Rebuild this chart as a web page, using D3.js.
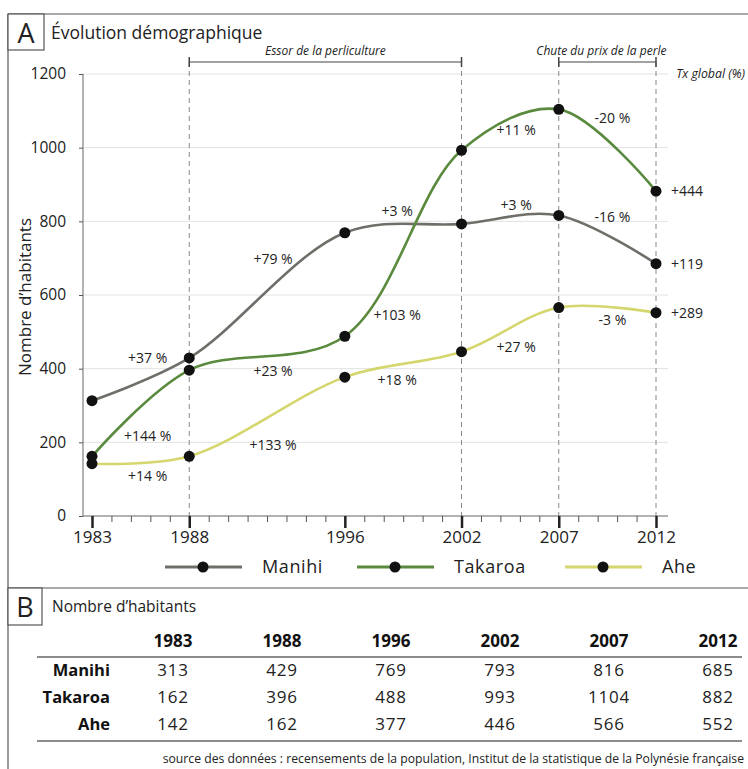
<!DOCTYPE html>
<html><head><meta charset="utf-8">
<script src="https://cdn.jsdelivr.net/npm/d3@7"></script>
<style>
body{margin:0;background:#fff;}
svg{display:block;font-family:"Open Sans","Noto Sans",sans-serif;}
</style></head>
<body><svg id="c" width="748" height="769"></svg>
<script>
// ---- data ----
const years = [1983, 1988, 1996, 2002, 2007, 2012];
const seriesNames = ["Manihi", "Takaroa", "Ahe"];
const manihi = [313, 429, 769, 793, 816, 685];
const takaroa = [162, 396, 488, 993, 1104, 882];
const ahe = [142, 162, 377, 446, 566, 552];
// period-to-period change (%) as printed on the chart
const manihiPct = [37, 79, 3, 3, -16];
const takaroaPct = [144, 23, 103, 11, -20];
const ahePct = [14, 133, 18, 27, -3];
// overall change 1983-2012 (%)
const globalPct = [119, 444, 289];
const yTicks = [0, 200, 400, 600, 800, 1000, 1200];
const periodLabels = ["Essor de la perliculture", "Chute du prix de la perle"];
const periodStart = [1988, 2007];
const periodEnd = [2002, 2012];
const titleA = "Évolution démographique";
const titleB = "Nombre d’habitants";
const yTitle = "Nombre d’habitants";
const globalLabel = "Tx global (%)";
const sourceText = "source des données : recensements de la population, Institut de la statistique de la Polynésie française";

// ---- styles ----
const colors = {Manihi: "#6f6e69", Takaroa: "#5a8a3d", Ahe: "#d5d66e"};
const values = {Manihi: manihi, Takaroa: takaroa, Ahe: ahe};
const pcts = {Manihi: manihiPct, Takaroa: takaroaPct, Ahe: ahePct};
// label pixel offsets per segment
const segDx = [7, 6, -6, 6, 5];
const segDy = {Manihi: [-21, -36, -17, -15, -22], Takaroa: [23, 18, 72, 0, -32], Ahe: [16, 28, 16, 17, 10]};

const svg = d3.select("#c");
const x = d3.scaleLinear().domain([1983, 2012]).range([92, 656]);
const y = d3.scaleLinear().domain([0, 1200]).range([516, 74]);
const txt = "#222";

// frame
svg.append("line").attr("x1", 8).attr("x2", 748).attr("y1", 14).attr("y2", 14).attr("stroke", "#555").attr("stroke-width", 1.2);
svg.append("line").attr("x1", 8).attr("x2", 8).attr("y1", 14).attr("y2", 769).attr("stroke", "#555").attr("stroke-width", 1.2);
svg.append("rect").attr("x", 8).attr("y", 14).attr("width", 36).attr("height", 36).attr("fill", "#fff").attr("stroke", "#555").attr("stroke-width", 1.2);
svg.append("text").attr("x", 26).attr("y", 43).attr("text-anchor", "middle").attr("font-size", 27).attr("fill", txt).text("A");
svg.append("text").attr("x", 51).attr("y", 39).attr("font-size", 17.5).attr("fill", txt).text(titleA);

// gridlines
svg.append("g").selectAll("line").data(yTicks.filter(d => d > 0)).join("line")
  .attr("x1", 83).attr("x2", 668).attr("y1", d => y(d)).attr("y2", d => y(d))
  .attr("stroke", "#e2e2e2").attr("stroke-width", 1);

// y axis
const ya = svg.append("g").attr("transform", "translate(83,0)")
  .call(d3.axisLeft(y).tickValues(yTicks).tickSize(4).tickPadding(13).tickFormat(d3.format("d")));
ya.select(".domain").remove();
ya.selectAll(".tick line").attr("stroke", "#555");
ya.selectAll(".tick text").attr("font-size", 15.5).attr("fill", txt).attr("font-family", "Open Sans");
svg.append("line").attr("x1", 83).attr("x2", 83).attr("y1", y(1200)).attr("y2", y(0)).attr("stroke", "#666").attr("stroke-width", 1);
svg.append("text").attr("transform", `translate(31,${(y(0) + y(1200)) / 2 + 2}) rotate(-90)`)
  .attr("text-anchor", "middle").attr("font-size", 17).attr("fill", txt).text(yTitle);

// dashed period lines + brackets
const bounds = Array.from(new Set(periodStart.concat(periodEnd)));
svg.append("g").selectAll("line").data(bounds).join("line")
  .attr("x1", d => x(d)).attr("x2", d => x(d)).attr("y1", 62).attr("y2", y(0))
  .attr("stroke", "#888").attr("stroke-width", 1).attr("stroke-dasharray", "5,4");
periodLabels.forEach((lab, i) => {
  const g = svg.append("g");
  const x0 = x(periodStart[i]), x1 = x(periodEnd[i]);
  g.append("line").attr("x1", x0).attr("x2", x1).attr("y1", 62).attr("y2", 62).attr("stroke", "#444").attr("stroke-width", 1.2);
  [x0, x1].forEach(v => g.append("line").attr("x1", v).attr("x2", v).attr("y1", 57).attr("y2", 67).attr("stroke", "#444").attr("stroke-width", 1.5));
  g.append("text").attr("x", (x0 + x1) / 2 - (i === 1 ? 6 : 0)).attr("y", 55).attr("text-anchor", "middle")
    .attr("font-size", 12).attr("font-style", "italic").attr("fill", txt).text(lab);
});
svg.append("text").attr("x", 745).attr("y", 78).attr("text-anchor", "end").attr("font-size", 12.3)
  .attr("font-style", "italic").attr("fill", txt).text(globalLabel);

// x axis
svg.append("line").attr("x1", 83).attr("x2", 668).attr("y1", y(0)).attr("y2", y(0)).attr("stroke", "#666").attr("stroke-width", 1.2);
const minor = svg.append("g").attr("transform", `translate(0,${y(0)})`)
  .call(d3.axisBottom(x).tickValues(d3.range(1983, 2013)).tickSize(6).tickFormat(""));
minor.select(".domain").remove();
minor.selectAll(".tick line").attr("stroke", "#555");
const xa = svg.append("g").attr("transform", `translate(0,${y(0)})`)
  .call(d3.axisBottom(x).tickValues(years).tickSize(12).tickPadding(3).tickFormat(d3.format("d")));
xa.select(".domain").remove();
xa.selectAll(".tick line").attr("stroke", "#222").attr("stroke-width", 2.5);
xa.selectAll(".tick text").attr("font-size", 17).attr("fill", txt).attr("font-family", "Open Sans");

// lines
const line = d3.line().x((d, i) => x(years[i])).y(d => y(d)).curve(d3.curveCatmullRom.alpha(0.5));
seriesNames.forEach(name => {
  svg.append("path").attr("d", line(values[name])).attr("fill", "none").attr("stroke", colors[name]).attr("stroke-width", 2.6);
});
const fmt = p => (p >= 0 ? "+" : "-") + Math.abs(p);
seriesNames.forEach((name, si) => {
  const v = values[name];
  svg.append("g").selectAll("circle").data(v).join("circle")
    .attr("cx", (d, i) => x(years[i])).attr("cy", d => y(d)).attr("r", 5.5).attr("fill", "#111");
  svg.append("g").selectAll("text").data(pcts[name]).join("text")
    .attr("x", (p, i) => (x(years[i]) + x(years[i + 1])) / 2 + segDx[i])
    .attr("y", (p, i) => (y(v[i]) + y(v[i + 1])) / 2 + segDy[name][i])
    .attr("dy", "0.35em").attr("text-anchor", "middle").attr("font-size", 14).attr("fill", txt)
    .text(p => fmt(p) + " %");
  svg.append("text").attr("x", x(2012) + 15).attr("y", y(v[v.length - 1])).attr("dy", "0.35em")
    .attr("font-size", 14).attr("fill", txt).text(fmt(globalPct[si]));
});

// legend
const legX = [165, 357, 565];
seriesNames.forEach((name, i) => {
  const g = svg.append("g").attr("transform", `translate(${legX[i]},567)`);
  g.append("line").attr("x1", 0).attr("x2", 77).attr("stroke", colors[name]).attr("stroke-width", 3);
  g.append("circle").attr("cx", 38).attr("r", 5.5).attr("fill", "#111");
  g.append("text").attr("x", 97).attr("dy", "0.35em").attr("font-size", 18).attr("letter-spacing", 0.6).attr("fill", txt).text(name);
});

// panel B
svg.append("line").attr("x1", 8).attr("x2", 748).attr("y1", 588).attr("y2", 588).attr("stroke", "#555").attr("stroke-width", 1.2);
svg.append("rect").attr("x", 8).attr("y", 588).attr("width", 34).attr("height", 37).attr("fill", "#fff").attr("stroke", "#555").attr("stroke-width", 1.2);
svg.append("text").attr("x", 25).attr("y", 617).attr("text-anchor", "middle").attr("font-size", 27).attr("fill", txt).text("B");
svg.append("text").attr("x", 52).attr("y", 612).attr("font-size", 15.5).attr("fill", txt).text(titleB);

const col = d3.scalePoint().domain(years).range([173, 718]);
svg.append("g").selectAll("text").data(years).join("text")
  .attr("x", d => col(d)).attr("y", 647).attr("text-anchor", "middle").attr("font-size", 17).attr("font-weight", "bold").attr("fill", "#111").text(d => d);
svg.append("line").attr("x1", 37).attr("x2", 742).attr("y1", 657).attr("y2", 657).attr("stroke", "#666").attr("stroke-width", 1.5);
const rowY = d3.scalePoint().domain(seriesNames).range([670, 724]);
seriesNames.forEach(name => {
  svg.append("text").attr("x", 110).attr("y", rowY(name)).attr("dy", "0.35em").attr("text-anchor", "end")
    .attr("font-size", 16.5).attr("font-weight", "bold").attr("fill", "#111").text(name);
  svg.append("g").selectAll("text").data(values[name]).join("text")
    .attr("x", (d, i) => col(years[i])).attr("y", rowY(name)).attr("dy", "0.35em").attr("text-anchor", "middle")
    .attr("font-size", 17).attr("letter-spacing", 0.8).attr("fill", txt).text(d => d);
});
svg.append("line").attr("x1", 37).attr("x2", 742).attr("y1", 741).attr("y2", 741).attr("stroke", "#666").attr("stroke-width", 1.5);
svg.append("text").attr("x", 744).attr("y", 763).attr("text-anchor", "end").attr("font-size", 12.2).attr("fill", txt).text(sourceText);
</script></body></html>
